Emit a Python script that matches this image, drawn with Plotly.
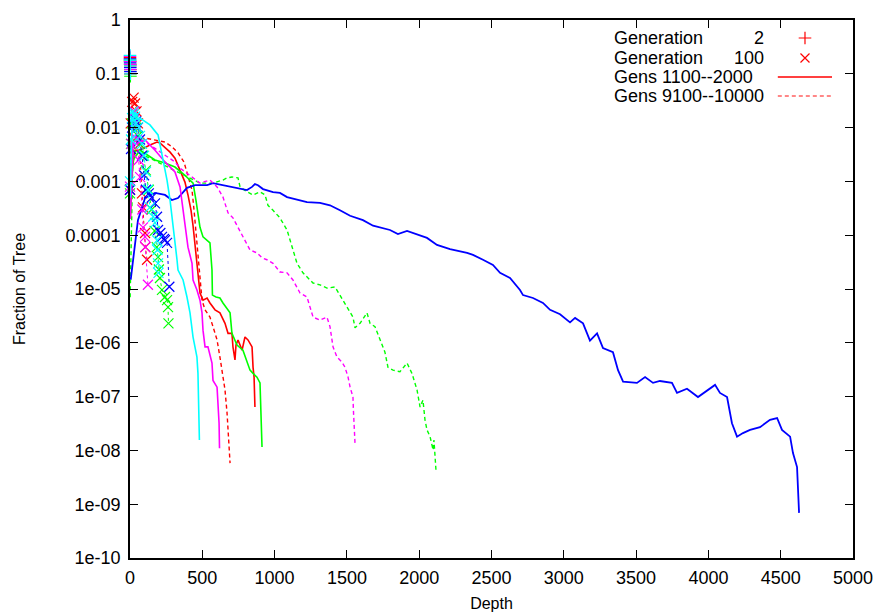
import plotly.graph_objects as go

# ---- depth profiles: fraction of tree at each depth, one run per colour ----
RUN_COLORS = ["#ff0000", "#00ff00", "#0000ff", "#ff00ff", "#00ffff"]

# Generation 2
gen2_red_depth = [0, 1, 2, 3]
gen2_red_frac = [0.20, 0.17, 0.14, 0.10]
gen2_green_depth = [0, 1, 2, 3]
gen2_green_frac = [0.18, 0.15, 0.12, 0.09]
gen2_blue_depth = [0, 1, 2, 3]
gen2_blue_frac = [0.19, 0.16, 0.13, 0.11]
gen2_magenta_depth = [0, 1, 2, 3]
gen2_magenta_frac = [0.21, 0.17, 0.15, 0.12]
gen2_cyan_depth = [0, 1, 2, 3]
gen2_cyan_frac = [0.22, 0.18, 0.14, 0.10]

# Generation 100
gen100_red_depth = [0, 5, 15, 25, 35, 45, 55, 65, 83, 90, 104, 106, 118]
gen100_red_frac = [7e-4, 0.012, 0.030, 0.036, 0.028, 0.020, 0.012, 0.005,
                   6e-4, 3.3e-4, 1.1e-4, 6e-5, 3.5e-5]
gen100_green_depth = [0, 7, 14, 28, 42, 55, 69, 90, 110, 130, 150, 170, 185,
                      194, 200, 207, 221, 242, 256, 263, 266]
gen100_green_frac = [6e-4, 0.005, 0.012, 0.014, 0.010, 0.007, 0.005, 0.003,
                     1.6e-3, 7e-4, 3e-4, 1.2e-4, 6e-5, 3.9e-5, 2.3e-5, 1.6e-5,
                     9.6e-6, 7.1e-6, 6.2e-6, 4.6e-6, 2.3e-6]
gen100_blue_depth = [0, 7, 14, 28, 42, 55, 69, 83, 97, 110, 130, 150, 173,
                     187, 194, 210, 221, 235, 242, 256, 272]
gen100_blue_frac = [7e-4, 0.004, 0.010, 0.015, 0.013, 0.010, 0.006, 0.003,
                    1.3e-3, 7e-4, 6e-4, 5e-4, 3.9e-4, 2.2e-4, 1.25e-4, 1.1e-4,
                    9.3e-5, 8.5e-5, 8.1e-5, 7.2e-5, 1.1e-5]
gen100_magenta_depth = [0, 10, 20, 30, 40, 50, 60, 70, 85, 90, 104, 106, 124]
gen100_magenta_frac = [8e-4, 0.005, 0.015, 0.020, 0.012, 0.006, 2.5e-3,
                       1.2e-3, 3e-4, 1.4e-4, 9.3e-5, 6e-5, 1.2e-5]
gen100_cyan_depth = [0, 7, 14, 21, 28, 35, 42, 55, 69, 83, 97, 110, 124, 138,
                     160, 173, 187, 190, 194, 197]
gen100_cyan_frac = [1e-3, 0.006, 0.015, 0.020, 0.018, 0.016, 0.012, 0.010,
                    0.007, 0.005, 0.003, 1.5e-3, 7e-4, 3.3e-4, 2.2e-4, 1.7e-4,
                    8e-5, 5.3e-5, 3e-5, 2e-5]

# Gens 1100--2000
mid_red_depth = [3, 14, 35, 69, 138, 187, 207, 242, 277, 311, 346, 380, 401,
                 422, 436, 450, 463, 477, 484, 505, 533, 553, 588, 622, 657,
                 678, 705, 712, 726, 733, 747, 775, 795, 816, 844, 851, 858, 864]
mid_red_frac = [2.0e-4, 1.6e-3, 3.8e-3, 3.8e-3, 4.75e-3, 5.4e-3, 5.2e-3,
                4.2e-3, 3.5e-3, 2.7e-3, 1.6e-3, 9.7e-4, 5.6e-4, 2.9e-4, 1.5e-4,
                6.6e-5, 2.8e-5, 1.2e-5, 8.4e-6, 6.2e-6, 6.8e-6, 5.5e-6, 4.1e-6,
                3.6e-6, 2.3e-6, 1.5e-6, 1.5e-6, 8.4e-7, 4.8e-7, 9.1e-7, 1.13e-6,
                7.3e-7, 1.28e-6, 1.13e-6, 8.4e-7, 3.5e-7, 2.3e-7, 6.4e-8]
mid_green_depth = [2, 21, 69, 124, 173, 242, 311, 380, 415, 436, 456, 484,
                   505, 533, 553, 567, 570, 595, 622, 643, 671, 692, 705, 726,
                   740, 781, 816, 830, 851, 878, 899, 906, 913]
mid_green_frac = [3.0e-4, 2.5e-3, 3.8e-3, 3.1e-3, 2.5e-3, 2.2e-3, 1.85e-3,
                  1.3e-3, 1.06e-3, 9.3e-4, 4.5e-4, 1.4e-4, 9.3e-5, 8.1e-5,
                  7.2e-5, 2.25e-5, 7.7e-6, 7.1e-6, 6.8e-6, 5.5e-6, 4.4e-6,
                  3.6e-6, 1.5e-6, 1.13e-6, 9.1e-7, 7.3e-7, 4.2e-7, 3.1e-7,
                  2.7e-7, 2.3e-7, 1.8e-7, 5.0e-8, 1.16e-8]
mid_blue_depth = [5, 55, 104, 173, 242, 290, 332, 394, 450, 533, 574, 643,
                  740, 809, 844, 864, 885, 920, 989, 1037, 1086, 1155, 1224,
                  1314, 1383, 1452, 1522, 1611, 1681, 1798, 1853, 1916, 1985,
                  2054, 2123, 2213, 2331, 2372, 2441, 2510, 2559, 2628, 2697,
                  2718, 2787, 2856, 2905, 2974, 3043, 3078, 3133, 3181, 3230,
                  3271, 3340, 3375, 3410, 3506, 3562, 3617, 3665, 3748, 3783,
                  3852, 3928, 3991, 4046, 4080, 4129, 4163, 4198, 4239, 4288,
                  4357, 4426, 4475, 4509, 4565, 4585, 4613, 4620, 4624, 4627]
mid_blue_frac = [1.5e-5, 1.9e-4, 4.9e-4, 6.1e-4, 5.6e-4, 4.5e-4, 4.9e-4,
                 7.6e-4, 8.5e-4, 8.5e-4, 9.3e-4, 8.5e-4, 7.6e-4, 6.9e-4,
                 7.9e-4, 8.9e-4, 8.5e-4, 7.2e-4, 6.3e-4, 6.1e-4, 5.1e-4,
                 4.5e-4, 4.1e-4, 4.0e-4, 3.6e-4, 2.9e-4, 2.3e-4, 1.9e-4,
                 1.5e-4, 1.25e-4, 1.05e-4, 1.2e-4, 1.05e-4, 8.9e-5, 6.6e-5,
                 5.5e-5, 4.7e-5, 4.3e-5, 3.5e-5, 2.8e-5, 2.0e-5, 1.6e-5,
                 9.6e-6, 7.7e-6, 6.8e-6, 5.5e-6, 4.1e-6, 3.4e-6, 2.4e-6,
                 2.9e-6, 2.3e-6, 1.1e-6, 1.5e-6, 8e-7, 6.7e-7, 3.1e-7, 1.9e-7,
                 1.8e-7, 2.3e-7, 1.8e-7, 1.95e-7, 1.8e-7, 1.17e-7, 1.4e-7,
                 9.8e-8, 1.3e-7, 1.65e-7, 1.17e-7, 9.8e-8, 3.2e-8, 1.8e-8,
                 2.1e-8, 2.4e-8, 2.7e-8, 3.7e-8, 4.0e-8, 2.4e-8, 1.8e-8,
                 8.9e-9, 4.9e-9, 1.35e-9, 1.6e-9, 6.9e-10]
mid_magenta_depth = [2, 21, 104, 173, 242, 311, 346, 367, 380, 401, 429, 436,
                     463, 484, 498, 505, 519, 539, 567, 574, 602, 609, 616, 619]
mid_magenta_frac = [2.0e-4, 4.75e-3, 5.9e-3, 3.8e-3, 2.3e-3, 1.5e-3, 7.9e-4,
                    2.9e-4, 1.4e-4, 6.0e-5, 3.0e-5, 1.47e-5, 9.6e-6, 6.2e-6,
                    3.6e-6, 1.7e-6, 8.4e-7, 8.4e-7, 4.2e-7, 2.0e-7, 1.5e-7,
                    6.4e-8, 3.2e-8, 1.1e-8]
mid_cyan_depth = [2, 14, 69, 138, 194, 228, 256, 277, 297, 325, 332, 367, 394,
                  415, 436, 450, 463, 470, 477, 480]
mid_cyan_frac = [5e-4, 0.0138, 0.015, 0.0112, 0.0073, 2.5e-3, 1.06e-3, 4.5e-4,
                 1.7e-4, 3.5e-5, 2.25e-5, 1.47e-5, 7.1e-6, 3.6e-6, 1.28e-6,
                 8.4e-7, 5.4e-7, 2.7e-7, 6.4e-8, 1.56e-8]

# Gens 9100--10000
late_red_depth = [2, 21, 104, 173, 242, 290, 332, 373, 401, 429, 443, 456,
                  470, 484, 498, 519, 553, 574, 602, 622, 643, 657, 671, 685, 692]
late_red_frac = [3e-4, 5.9e-3, 6.4e-3, 5.9e-3, 5.4e-3, 4.4e-3, 3.4e-3, 2.3e-3,
                 1.3e-3, 6.9e-4, 2.9e-4, 1.25e-4, 4.3e-5, 1.47e-5, 6.2e-6,
                 4.1e-6, 3.0e-6, 2.0e-6, 1.13e-6, 5.4e-7, 2.3e-7, 1.33e-7,
                 5.0e-8, 1.56e-8, 5.8e-9]
late_green_depth = [1, 21, 138, 277, 415, 484, 553, 595, 643, 671, 705, 747,
                    761, 809, 851, 899, 934, 954, 989, 1037, 1086, 1120, 1155,
                    1196, 1266, 1314, 1362, 1418, 1452, 1501, 1542, 1556, 1591,
                    1639, 1660, 1694, 1729, 1763, 1784, 1819, 1867, 1916, 1950,
                    1985, 2006, 2026, 2040, 2054, 2075, 2096, 2102, 2109, 2116]
late_green_frac = [7.0e-6, 3.8e-3, 2.7e-3, 1.77e-3, 1.16e-3, 9.3e-4, 9.3e-4,
                   9.7e-4, 1.06e-3, 1.16e-3, 1.21e-3, 1.16e-3, 7.9e-4, 6.4e-4,
                   5.6e-4, 6.4e-4, 5.6e-4, 3.6e-4, 2.9e-4, 2.1e-4, 1.25e-4,
                   6.0e-5, 3.0e-5, 2.0e-5, 1.29e-5, 1.19e-5, 1.04e-5, 1.09e-5,
                   7.7e-6, 4.6e-6, 3.0e-6, 1.9e-6, 2.3e-6, 3.6e-6, 2.3e-6,
                   2.0e-6, 1.13e-6, 6.7e-7, 3.5e-7, 3.1e-7, 2.9e-7, 4.2e-7,
                   2.7e-7, 1.33e-7, 6.4e-8, 8.6e-8, 3.7e-8, 2.4e-8, 1.8e-8,
                   1.02e-8, 1.56e-8, 5.8e-9, 4.3e-9]
late_magenta_depth = [2, 21, 138, 242, 311, 346, 394, 484, 553, 602, 643, 678,
                      712, 747, 781, 830, 878, 913, 947, 989, 1037, 1086, 1127,
                      1176, 1224, 1266, 1314, 1362, 1383, 1404, 1432, 1466,
                      1487, 1508, 1522, 1542, 1545, 1556]
late_magenta_frac = [1.0e-3, 7.3e-3, 4.75e-3, 3.1e-3, 2.3e-3, 1.77e-3,
                     1.43e-3, 9.3e-4, 1.06e-3, 7.9e-4, 5.1e-4, 2.6e-4, 2.1e-4,
                     1.4e-4, 9.3e-5, 5.3e-5, 4.7e-5, 3.8e-5, 3.5e-5, 3.0e-5,
                     2.07e-5, 2.0e-5, 1.47e-5, 8.4e-6, 7.1e-6, 3.0e-6, 2.65e-6,
                     3.0e-6, 2.0e-6, 8.4e-7, 5.4e-7, 4.4e-7, 3.5e-7, 2.3e-7,
                     1.5e-7, 9.8e-8, 5.6e-8, 1.37e-8]

Y_TICKS = [1, 0.1, 0.01, 0.001, 0.0001, 1e-5, 1e-6, 1e-7, 1e-8, 1e-9, 1e-10]
Y_TICK_TEXT = ["1", "0.1", "0.01", "0.001", "0.0001", "1e-05", "1e-06",
               "1e-07", "1e-08", "1e-09", "1e-10"]
X_TICKS = [0, 500, 1000, 1500, 2000, 2500, 3000, 3500, 4000, 4500, 5000]

LEGEND_LABELS = ["Generation", "Generation", "Gens 1100--2000", "Gens 9100--10000"]
LEGEND_NUMBERS = ["2", "100", "", ""]

FONT = "Liberation Sans, Arial, Helvetica, sans-serif"

gen2 = [(gen2_red_depth, gen2_red_frac), (gen2_green_depth, gen2_green_frac),
        (gen2_blue_depth, gen2_blue_frac), (gen2_magenta_depth, gen2_magenta_frac),
        (gen2_cyan_depth, gen2_cyan_frac)]
gen100 = [(gen100_red_depth, gen100_red_frac), (gen100_green_depth, gen100_green_frac),
          (gen100_blue_depth, gen100_blue_frac), (gen100_magenta_depth, gen100_magenta_frac),
          (gen100_cyan_depth, gen100_cyan_frac)]
mid = [(mid_red_depth, mid_red_frac), (mid_green_depth, mid_green_frac),
       (mid_blue_depth, mid_blue_frac), (mid_magenta_depth, mid_magenta_frac),
       (mid_cyan_depth, mid_cyan_frac)]
late = [(late_red_depth, late_red_frac), (late_green_depth, late_green_frac),
        None, (late_magenta_depth, late_magenta_frac), None]

fig = go.Figure()

for i, color in enumerate(RUN_COLORS):
    d, f = gen2[i]
    fig.add_trace(go.Scatter(
        x=d, y=f, mode="markers", cliponaxis=False, showlegend=False,
        marker=dict(symbol="cross-thin", size=9, color=color,
                    line=dict(color=color, width=1.2))))
    d, f = gen100[i]
    fig.add_trace(go.Scatter(
        x=d, y=f, mode="lines+markers", cliponaxis=False, showlegend=False,
        line=dict(color=color, width=1, dash="dot"),
        marker=dict(symbol="x-thin", size=10, color=color,
                    line=dict(color=color, width=1.2))))
    d, f = mid[i]
    fig.add_trace(go.Scatter(
        x=d, y=f, mode="lines", showlegend=False,
        line=dict(color=color, width=1.8 if color == "#0000ff" else 1.6)))
    if late[i] is not None:
        d, f = late[i]
        fig.add_trace(go.Scatter(
            x=d, y=f, mode="lines", showlegend=False,
            line=dict(color=color, width=1.4, dash="4px,3px")))

# key samples, drawn on an overlay axis spanning the plot area in [0, 1]
KEY_Y = [0.9665, 0.9294, 0.894, 0.8587]
KEY_X_MARK = 0.9336
KEY_X_LINE = [0.896, 0.971]
fig.add_trace(go.Scatter(
    x=[KEY_X_MARK], y=[KEY_Y[0]], xaxis="x2", yaxis="y2", mode="markers",
    showlegend=False, marker=dict(symbol="cross-thin", size=9, color="#ff0000",
                                  line=dict(color="#ff0000", width=1.2))))
fig.add_trace(go.Scatter(
    x=[KEY_X_MARK], y=[KEY_Y[1]], xaxis="x2", yaxis="y2", mode="markers",
    showlegend=False, marker=dict(symbol="x-thin", size=9, color="#ff0000",
                                  line=dict(color="#ff0000", width=1.2))))
fig.add_trace(go.Scatter(
    x=KEY_X_LINE, y=[KEY_Y[2]] * 2, xaxis="x2", yaxis="y2", mode="lines",
    showlegend=False, line=dict(color="#ff0000", width=1.4)))
fig.add_trace(go.Scatter(
    x=KEY_X_LINE, y=[KEY_Y[3]] * 2, xaxis="x2", yaxis="y2", mode="lines",
    showlegend=False, line=dict(color="#ff6060", width=1.4, dash="4px,3px")))

annotations = []
for label, num, ky in zip(LEGEND_LABELS, LEGEND_NUMBERS, KEY_Y):
    annotations.append(dict(x=0.667, y=ky, xref="paper", yref="paper",
                            text=label, showarrow=False, xanchor="left",
                            yanchor="middle", font=dict(family=FONT, size=18, color="black")))
    if num:
        annotations.append(dict(x=0.880, y=ky, xref="paper", yref="paper",
                                text=num, showarrow=False, xanchor="right",
                                yanchor="middle", font=dict(family=FONT, size=18, color="black")))

axis_common = dict(showline=True, linecolor="black", linewidth=1.5, mirror="ticks",
                   ticks="inside", ticklen=8, tickwidth=1, tickcolor="black",
                   showgrid=False, zeroline=False, automargin=False,
                   tickfont=dict(family=FONT, size=18, color="black"))

fig.update_layout(
    width=878, height=612,
    margin=dict(l=130, r=25, t=20, b=54),
    paper_bgcolor="white", plot_bgcolor="white",
    showlegend=False,
    annotations=annotations,
    xaxis=dict(range=[0, 5000], tickvals=X_TICKS, ticklabelstandoff=3,
               title=dict(text="Depth", font=dict(family=FONT, size=16, color="black"),
                          standoff=10),
               **axis_common),
    yaxis=dict(type="log", range=[-10, 0], tickvals=Y_TICKS, ticktext=Y_TICK_TEXT,
               ticklabelstandoff=4,
               title=dict(text="Fraction of Tree",
                          font=dict(family=FONT, size=16, color="black"), standoff=36),
               **axis_common),
    xaxis2=dict(overlaying="x", range=[0, 1], visible=False),
    yaxis2=dict(overlaying="y", range=[0, 1], visible=False),
)

fig.write_html("out.html")
